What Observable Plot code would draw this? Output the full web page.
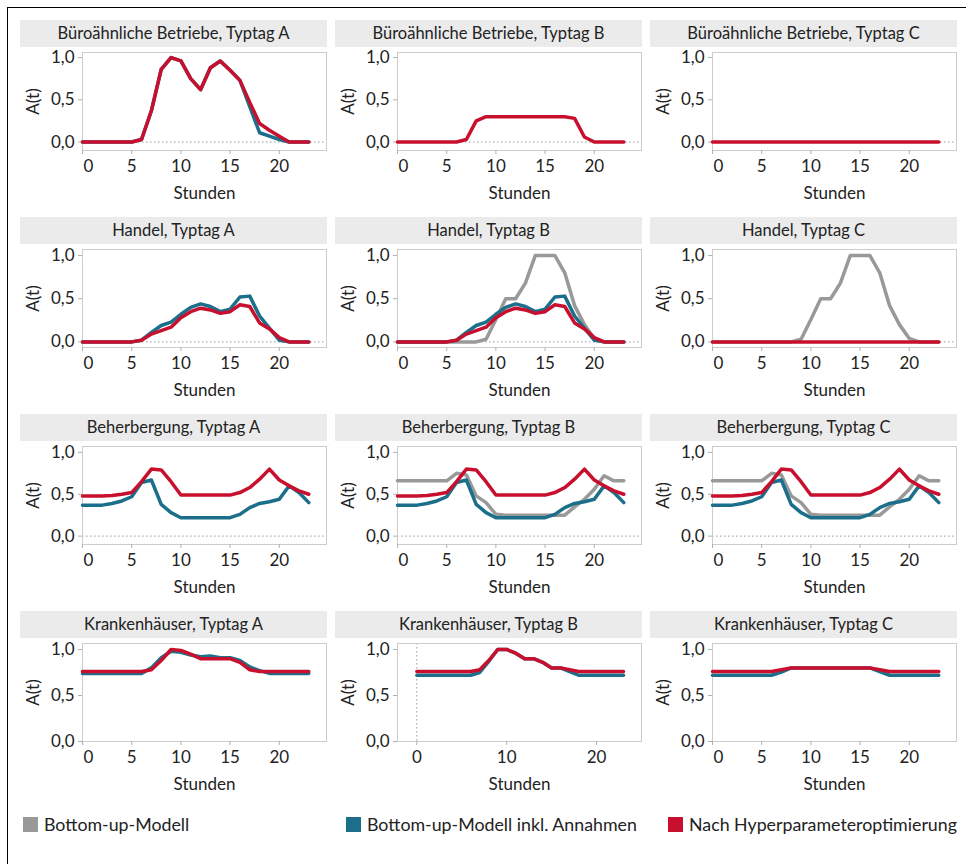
<!DOCTYPE html>
<html>
<head>
<meta charset="utf-8">
<script src="https://cdn.jsdelivr.net/npm/d3@7"></script>
<script src="https://cdn.jsdelivr.net/npm/@observablehq/plot@0.6"></script>
<style>
  html, body { margin: 0; padding: 0; background: #fff; overflow: hidden; }
  #chart { position: relative; width: 966px; height: 864px; font-family: Lato, "Open Sans", sans-serif; color: #222; }
  #border { position: absolute; left: 7px; top: 7px; width: 1000px; height: 1000px; border: 1.5px solid #000; box-sizing: border-box; }
  .strip { position: absolute; height: 27px; line-height: 27px; background: #ebebeb; text-align: center; font-size: 16.5px; color: #222; white-space: nowrap; }
  .panel { position: absolute; }
  .panel svg { display: block; overflow: visible; }
  .leg { position: absolute; top: 813px; display: flex; align-items: center; font-size: 17.8px; color: #222; white-space: nowrap; }
  .leg .sw { width: 15px; height: 15px; margin-right: 6px; }
</style>
</head>
<body>
<div id="chart"><div id="border"></div></div>
<script>
// ---------- data ----------
const hours = [0,1,2,3,4,5,6,7,8,9,10,11,12,13,14,15,16,17,18,19,20,21,22,23];

const seriesNames = ["Bottom-up-Modell", "Bottom-up-Modell inkl. Annahmen", "Nach Hyperparameteroptimierung"];
const seriesColors = ["#999999", "#1b6f8b", "#c8102e"];

const panelTitles = [
  "Büroähnliche Betriebe, Typtag A", "Büroähnliche Betriebe, Typtag B", "Büroähnliche Betriebe, Typtag C",
  "Handel, Typtag A", "Handel, Typtag B", "Handel, Typtag C",
  "Beherbergung, Typtag A", "Beherbergung, Typtag B", "Beherbergung, Typtag C",
  "Krankenhäuser, Typtag A", "Krankenhäuser, Typtag B", "Krankenhäuser, Typtag C"
];

const yTicks = [0, 0.5, 1];
const xTicksStd = [0, 5, 10, 15, 20];
const xTicksWide = [0, 10, 20];

// Büroähnliche Betriebe
const bueroA_annahmen = [0,0,0,0,0,0,0.03,0.37,0.86,1.0,0.96,0.75,0.62,0.88,0.96,0.85,0.73,0.42,0.11,0.07,0.03,0,0,0];
const bueroA_optimiert = [0,0,0,0,0,0,0.03,0.37,0.86,1.0,0.96,0.75,0.62,0.88,0.96,0.85,0.73,0.47,0.22,0.14,0.07,0,0,0];
const bueroB_optimiert = [0,0,0,0,0,0,0,0.03,0.25,0.30,0.30,0.30,0.30,0.30,0.30,0.30,0.30,0.30,0.28,0.06,0,0,0,0];
const bueroC_optimiert = [0,0,0,0,0,0,0,0,0,0,0,0,0,0,0,0,0,0,0,0,0,0,0,0];

// Handel
const handelA_annahmen = [0,0,0,0,0,0,0.02,0.11,0.19,0.23,0.32,0.40,0.44,0.41,0.35,0.38,0.52,0.53,0.30,0.16,0.02,0,0,0];
const handelA_optimiert = [0,0,0,0,0,0,0.02,0.09,0.13,0.17,0.28,0.35,0.39,0.37,0.33,0.35,0.43,0.41,0.22,0.15,0.05,0,0,0];
const handelB_modell = [0,0,0,0,0,0,0,0,0,0.03,0.26,0.50,0.50,0.68,1.0,1.0,1.0,0.80,0.42,0.20,0.04,0,0,0];
const handelB_annahmen = [0,0,0,0,0,0,0.02,0.11,0.19,0.23,0.32,0.40,0.44,0.41,0.35,0.38,0.52,0.53,0.30,0.16,0.02,0,0,0];
const handelB_optimiert = [0,0,0,0,0,0,0.02,0.09,0.13,0.17,0.28,0.35,0.39,0.37,0.33,0.35,0.43,0.41,0.22,0.15,0.05,0,0,0];
const handelC_modell = [0,0,0,0,0,0,0,0,0,0.03,0.26,0.50,0.50,0.68,1.0,1.0,1.0,0.80,0.42,0.20,0.04,0,0,0];
const handelC_optimiert = [0,0,0,0,0,0,0,0,0,0,0,0,0,0,0,0,0,0,0,0,0,0,0,0];

// Beherbergung
const behA_annahmen = [0.37,0.37,0.37,0.39,0.42,0.47,0.64,0.67,0.38,0.28,0.22,0.22,0.22,0.22,0.22,0.22,0.26,0.34,0.39,0.41,0.44,0.60,0.52,0.40];
const behA_optimiert = [0.48,0.48,0.48,0.485,0.50,0.52,0.65,0.80,0.79,0.65,0.49,0.49,0.49,0.49,0.49,0.49,0.52,0.58,0.68,0.80,0.67,0.60,0.54,0.50];
const behB_modell = [0.66,0.66,0.66,0.66,0.66,0.66,0.75,0.73,0.48,0.40,0.26,0.25,0.25,0.25,0.25,0.25,0.25,0.25,0.35,0.44,0.56,0.72,0.66,0.66];
const behB_annahmen = [0.37,0.37,0.37,0.39,0.42,0.47,0.64,0.67,0.38,0.28,0.22,0.22,0.22,0.22,0.22,0.22,0.26,0.34,0.39,0.41,0.44,0.60,0.52,0.40];
const behB_optimiert = [0.48,0.48,0.48,0.485,0.50,0.52,0.65,0.80,0.79,0.65,0.49,0.49,0.49,0.49,0.49,0.49,0.52,0.58,0.68,0.80,0.67,0.60,0.54,0.50];
const behC_modell = [0.66,0.66,0.66,0.66,0.66,0.66,0.75,0.73,0.48,0.40,0.26,0.25,0.25,0.25,0.25,0.25,0.25,0.25,0.35,0.44,0.56,0.72,0.66,0.66];
const behC_annahmen = [0.37,0.37,0.37,0.39,0.42,0.47,0.64,0.67,0.38,0.28,0.22,0.22,0.22,0.22,0.22,0.22,0.26,0.34,0.39,0.41,0.44,0.60,0.52,0.40];
const behC_optimiert = [0.48,0.48,0.48,0.485,0.50,0.52,0.65,0.80,0.79,0.65,0.49,0.49,0.49,0.49,0.49,0.49,0.52,0.58,0.68,0.80,0.67,0.60,0.54,0.50];

// Krankenhäuser
const krankA_annahmen = [0.74,0.74,0.74,0.74,0.74,0.74,0.74,0.80,0.91,0.98,0.97,0.94,0.92,0.93,0.91,0.91,0.88,0.81,0.77,0.74,0.74,0.74,0.74,0.74];
const krankA_optimiert = [0.76,0.76,0.76,0.76,0.76,0.76,0.76,0.78,0.88,1.0,0.99,0.95,0.90,0.90,0.90,0.90,0.86,0.78,0.76,0.76,0.76,0.76,0.76,0.76];
const krankB_annahmen = [0.72,0.72,0.72,0.72,0.72,0.72,0.72,0.75,0.87,1.0,1.0,0.96,0.90,0.90,0.86,0.80,0.80,0.76,0.72,0.72,0.72,0.72,0.72,0.72];
const krankB_optimiert = [0.76,0.76,0.76,0.76,0.76,0.76,0.76,0.78,0.88,1.0,1.0,0.96,0.90,0.90,0.86,0.80,0.80,0.78,0.76,0.76,0.76,0.76,0.76,0.76];
const krankC_annahmen = [0.72,0.72,0.72,0.72,0.72,0.72,0.72,0.755,0.80,0.80,0.80,0.80,0.80,0.80,0.80,0.80,0.80,0.76,0.72,0.72,0.72,0.72,0.72,0.72];
const krankC_optimiert = [0.76,0.76,0.76,0.76,0.76,0.76,0.76,0.78,0.80,0.80,0.80,0.80,0.80,0.80,0.80,0.80,0.80,0.78,0.76,0.76,0.76,0.76,0.76,0.76];

// ---------- layout ----------
const colLeft = [20, 335, 650];
const rowTop = [20, 217, 414, 611];
const yDomains = [[-0.1, 1.06], [-0.065, 1.07], [-0.1, 1.07], [0, 1.065]];
const xDomainStd = [0, 24.8];
const xDomainWide = [-2.15, 25.0];

const panels = [
  {series: [null, bueroA_annahmen, bueroA_optimiert]},
  {series: [null, null, bueroB_optimiert]},
  {series: [null, null, bueroC_optimiert]},
  {series: [null, handelA_annahmen, handelA_optimiert]},
  {series: [handelB_modell, handelB_annahmen, handelB_optimiert]},
  {series: [handelC_modell, null, handelC_optimiert]},
  {series: [null, behA_annahmen, behA_optimiert]},
  {series: [behB_modell, behB_annahmen, behB_optimiert]},
  {series: [behC_modell, behC_annahmen, behC_optimiert]},
  {series: [null, krankA_annahmen, krankA_optimiert]},
  {series: [null, krankB_annahmen, krankB_optimiert], wide: true},
  {series: [null, krankC_annahmen, krankC_optimiert]}
];

const chart = document.getElementById("chart");
const fmt = d => d.toFixed(1).replace(".", ",");
const axisStyle = {tickSize: 4, stroke: "#b0b0b0", fill: "#222"};

panels.forEach((p, i) => {
  const row = Math.floor(i / 3), col = i % 3;
  const rows = [];
  p.series.forEach((vals, s) => {
    if (!vals) return;
    vals.forEach((v, k) => rows.push({hour: hours[k], value: v, series: seriesNames[s]}));
  });

  const strip = document.createElement("div");
  strip.className = "strip";
  strip.style.left = colLeft[col] + "px";
  strip.style.top = rowTop[row] + "px";
  strip.style.width = "307px";
  strip.textContent = panelTitles[i];
  chart.appendChild(strip);

  const xTicks = p.wide ? xTicksWide : xTicksStd;
  const xAxes = p.wide
    ? [Plot.axisX({...axisStyle, ticks: xTicks, tickPadding: 5,
        label: "Stunden", labelAnchor: "center", labelArrow: "none", labelOffset: 48})]
    : [Plot.axisX({...axisStyle, ticks: xTicks, tickPadding: 5, tickFormat: d => d === 0 ? "" : d,
        label: "Stunden", labelAnchor: "center", labelArrow: "none", labelOffset: 48}),
       // the edge label "0" sits slightly inside the frame, as in the original
       Plot.axisX({ticks: [0], tickSize: 0, fill: "#222", tickPadding: 9, dx: 6, label: null})];

  const svg = Plot.plot({
    width: 310,
    height: 158,
    marginLeft: 62,
    marginRight: 4,
    marginTop: 5,
    marginBottom: 55,
    style: {fontFamily: "Lato, 'Open Sans', sans-serif", fontSize: "17px", color: "#222", background: "none"},
    x: {domain: p.wide ? xDomainWide : xDomainStd},
    y: {domain: yDomains[row]},
    color: {domain: seriesNames, range: seriesColors},
    marks: [
      Plot.ruleY([0], {stroke: "#999", strokeDasharray: "1.5,2.5", strokeWidth: 1}),
      Plot.ruleX([0], {stroke: "#999", strokeDasharray: "1.5,2.5", strokeWidth: 1}),
      Plot.frame({stroke: "#cccccc"}),
      ...xAxes,
      Plot.axisY({...axisStyle, ticks: yTicks, tickPadding: 4, tickFormat: fmt,
        label: "A(t)", labelAnchor: "center", labelArrow: "none", labelOffset: 56}),
      Plot.line(rows, {x: "hour", y: "value", z: "series", stroke: "series", strokeWidth: 3.5})
    ]
  });
  const wrap = document.createElement("div");
  wrap.className = "panel";
  wrap.style.left = colLeft[col] + "px";
  wrap.style.top = (rowTop[row] + 27) + "px";
  wrap.appendChild(svg);
  chart.appendChild(wrap);
});

// legend
const legendLeft = [23, 346, 668];
seriesNames.forEach((name, s) => {
  const item = document.createElement("div");
  item.className = "leg";
  item.style.left = legendLeft[s] + "px";
  const sw = document.createElement("div");
  sw.className = "sw";
  sw.style.background = seriesColors[s];
  const t = document.createElement("span");
  t.textContent = name;
  item.appendChild(sw);
  item.appendChild(t);
  chart.appendChild(item);
});
</script>
</body>
</html>
